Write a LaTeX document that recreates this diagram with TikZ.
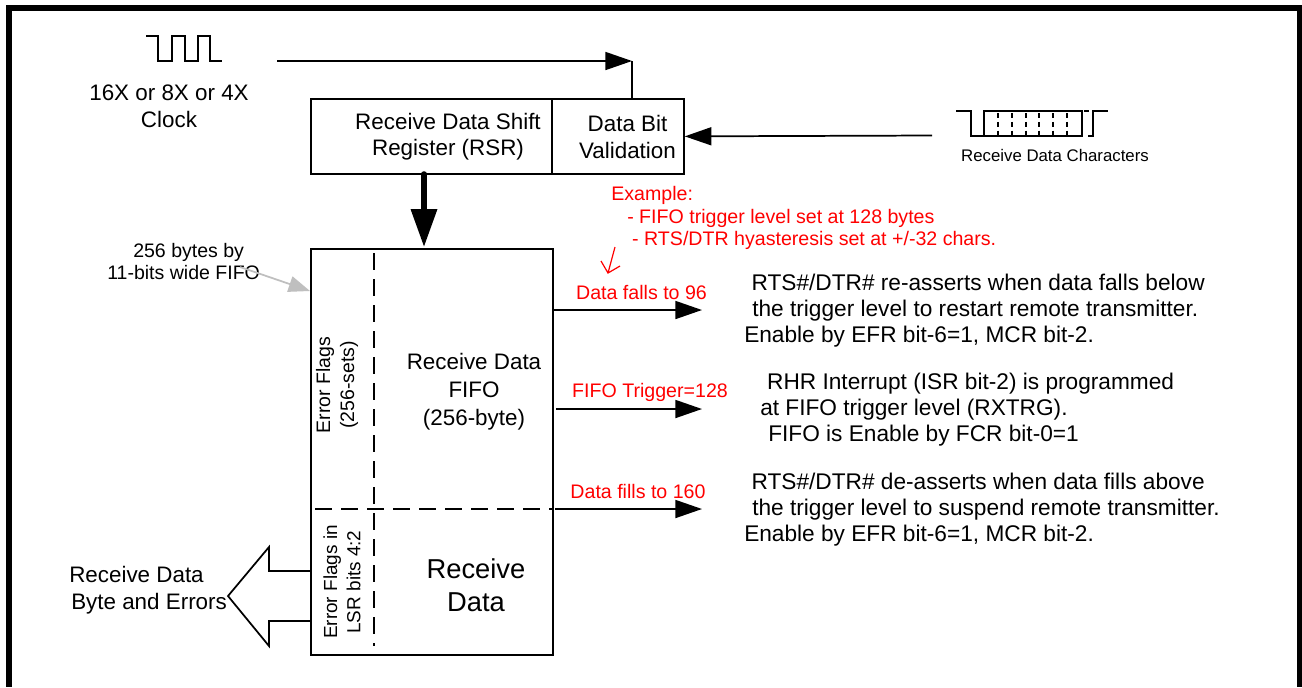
\documentclass[tikz,border=0pt]{standalone}
\usepackage{fontspec}
\setmainfont{Liberation Sans}
\usetikzlibrary{arrows.meta}
\definecolor{redtxt}{RGB}{255,0,0}
\tikzset{
  px/.style={x=0.75pt,y=-0.75pt},
  line/.style={line width=1.3pt,black},
  box/.style={draw,line width=1.3pt,inner sep=0pt,anchor=north west},
  flow/.style={line width=1.3pt,-{Triangle[length=20pt,width=13.5pt]}},
  lbl/.style={inner sep=0pt,font=\fontsize{16.8pt}{19.7pt}\selectfont,align=center,text=black},
  side/.style={lbl,font=\fontsize{17pt}{19.5pt}\selectfont,align=left,anchor=west},
  red lbl/.style={inner sep=0pt,font=\fontsize{14.7pt}{17pt}\selectfont,text=redtxt,align=left},
  small lbl/.style={inner sep=0pt,font=\fontsize{12.6pt}{14pt}\selectfont,text=black},
  dash div/.style={line width=1.3pt,dash pattern=on 13pt off 6.5pt}
}
\begin{document}
\begin{tikzpicture}[px]
\useasboundingbox (0,0) rectangle (1302,687);
\fill[white] (0,0) rectangle (1302,687);
\fill[black] (6,5) rectangle (1302,11);
\fill[black] (6,5) rectangle (12,687);
\fill[black] (1297,5) rectangle (1302,687);
% clock
\draw[line] (146,36) -- (158,36) -- (158,61) -- (172,61) -- (172,36) -- (185,36) -- (185,61) -- (198,61) -- (198,36) -- (210,36) -- (210,61) -- (222,61);
\node[lbl,font=\fontsize{16.8pt}{20.2pt}\selectfont] (clk) at (169,106) {16X or 8X or 4X\\Clock};
\coordinate (clkS) at (277,61);
\coordinate (clkE) at (632,61);
% registers
\node[box,minimum width=180.75pt,minimum height=56.25pt] (rsr) at (310,98) {};
\node[box,minimum width=99pt,minimum height=56.25pt] (val) at (551,98) {};
\node[lbl] (rsrT) at (448,137) {Receive Data Shift\\Register (RSR)};
\node[lbl] (valT) at (627.5,137) {Data Bit\\Validation};
\draw[flow] (clkS) -- (clkE);
\draw[line] (clkE) -- (clkE |- val.north);
% rx chars
\coordinate (rxS) at (932,135.5);
\draw[flow] (rxS) -- (val.east);
\draw[line] (956,111) -- (971,111) -- (971,136) -- (1083,136);
\draw[line] (984,136) -- (984,111) -- (1082,111) -- (1082,136);
\foreach \x in {998,1012,1026,1039,1053,1067} \draw[line width=1.2pt,dash pattern=on 4pt off 2.6pt] (\x,113) -- (\x,136);
\draw[line] (1088,136) -- (1093,136) -- (1093,111) -- (1108,111);
\draw[line] (1084,111) -- (1089,111);
\node[small lbl] (rxl) at (1055,155) {Receive Data Characters};
% fifo
\node[box,minimum width=181.5pt,minimum height=304.5pt] (fifo) at (310,248) {};
\draw[line width=4.2pt,line cap=round,-{Triangle[length=28.5pt,width=19pt]}] (424,174) -- (424,247);
\draw[dash div] (374,253) -- (374,646);
\draw[dash div] (315,509) -- (552,509);
% fifo labels
\node[lbl,rotate=90,font=\fontsize{14.6pt}{18pt}\selectfont] at (337,385) {Error Flags\\(256-sets)};
\node[lbl,rotate=90,font=\fontsize{14.2pt}{17.3pt}\selectfont] at (342,582) {Error Flags in\\LSR bits 4:2};
\node[lbl,font=\fontsize{16.8pt}{21pt}\selectfont] (fifoT) at (474,392) {Receive Data\\FIFO\\(256-byte)};
\node[lbl,font=\fontsize{20.5pt}{25pt}\selectfont] (dataT) at (476,585) {Receive\\Data};
% size note
\node[lbl,font=\fontsize{14.65pt}{17.2pt}\selectfont,align=left,anchor=west] (sz) at (107,261.5) {\hspace*{19.5pt}256 bytes by\\11-bits wide FIFO};
\coordinate (szS) at (240,267);
\draw[line width=1.3pt,black!25,-{Triangle[length=16pt,width=12pt]}] (szS) -- (fifo.west |- 0,291);
% output arrow
\draw[line] (fifo.west |- 0,571) -- (269,571) -- (269,547) -- (228,596) -- (269,646) -- (269,621) -- (fifo.west |- 0,621);
\node[lbl,font=\fontsize{16.8pt}{20.2pt}\selectfont,align=left,anchor=west] (out) at (69,590.5) {Receive Data\\\hspace*{1.5pt}Byte and Errors};
% red example
\node[red lbl,anchor=north west] (ex) at (611,186) {Example:\\\hspace*{12pt}- FIFO trigger level set at 128 bytes\\\hspace*{15.7pt}- RTS/DTR hyasteresis set at +/-32 chars.};
\draw[redtxt,line width=0.9pt] (615,247) -- (608,273) (601,261) -- (608,273) -- (620,266);
% flows
\coordinate (a1) at (702,310);
\coordinate (a2) at (702,409);
\coordinate (a3) at (702,509);
\draw[flow] (fifo.east |- a1) -- (a1);
\draw[flow] (556,409) -- (a2);
\draw[flow] (555,509) -- (a3);
\node[red lbl,anchor=center] (r1) at (641.5,292) {Data falls to 96};
\node[red lbl,anchor=center] (r2) at (650,392) {FIFO Trigger=128};
\node[red lbl,anchor=center] (r3) at (638,491) {Data fills to 160};
\node[side] (t1) at (744,311) {\hspace*{5.5pt}RTS\#/DTR\# re-asserts when data falls below\\\hspace*{6pt}the trigger level to restart remote transmitter.\\Enable by EFR bit-6=1, MCR bit-2.};
\node[side] (t2) at (760,410) {\hspace*{5.2pt}RHR Interrupt (ISR bit-2) is programmed\\at FIFO trigger level (RXTRG).\\\hspace*{6pt}FIFO is Enable by FCR bit-0=1};
\node[side] (t3) at (744,510) {\hspace*{5.5pt}RTS\#/DTR\# de-asserts when data fills above\\\hspace*{6pt}the trigger level to suspend remote transmitter.\\Enable by EFR bit-6=1, MCR bit-2.};
\end{tikzpicture}
\end{document}
